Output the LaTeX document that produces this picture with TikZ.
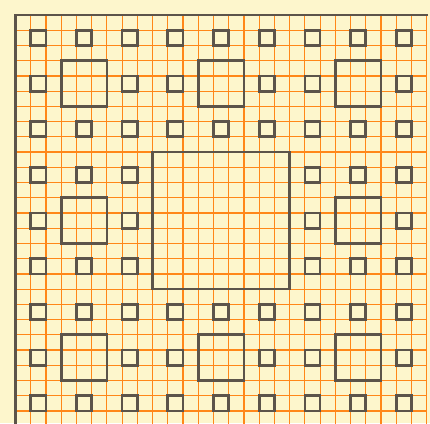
\documentclass[tikz,border=0pt]{standalone}
\definecolor{paper}{RGB}{253,246,204}
\definecolor{gridor}{RGB}{255,135,25}
\definecolor{ink}{RGB}{92,84,74}
\tikzset{
  gridline/.style={draw=gridor, line width=1.2pt},
  inkline/.style={draw=ink, line width=2.6pt, line join=miter},
  sq/.style={draw=ink, line width=2.7pt}
}
\begin{document}
\begin{tikzpicture}[x=1pt,y=-1pt]
\pgfmathsetmacro{\s}{15.23}
\pgfmathsetmacro{\xo}{15.5}
\pgfmathsetmacro{\yo}{15}
\fill[paper] (0,0) rectangle (430,423);
\useasboundingbox (0,0) rectangle (430,423);
% grid
\foreach \i in {1,...,27}{
  \draw[gridline] ({\xo+\i*\s},{\yo}) -- ({\xo+\i*\s},424);
}
\foreach \j in {1,...,27}{
  \draw[gridline] ({\xo},{\yo+\j*\s}) -- ({\xo+27*\s},{\yo+\j*\s});
}
% frame (left and top)
\draw[inkline] ({\xo},424) -- ({\xo},{\yo}) -- (428,{\yo});
% level 0 square
\draw[sq] ({\xo+9*\s},{\yo+9*\s}) rectangle ({\xo+18*\s},{\yo+18*\s});
% level 1 squares
\foreach \bx in {0,1,2}{
  \foreach \by in {0,1,2}{
    \ifnum\bx=1 \ifnum\by=1 \else
      \draw[sq] ({\xo+(9*\bx+3)*\s},{\yo+(9*\by+3)*\s}) rectangle ({\xo+(9*\bx+6)*\s},{\yo+(9*\by+6)*\s});
    \fi \else
      \draw[sq] ({\xo+(9*\bx+3)*\s},{\yo+(9*\by+3)*\s}) rectangle ({\xo+(9*\bx+6)*\s},{\yo+(9*\by+6)*\s});
    \fi
  }
}
% level 2 squares
\foreach \i in {0,...,8}{
  \foreach \j in {0,...,8}{
    \pgfmathtruncatemacro{\skipA}{(mod(\i,3)==1 && mod(\j,3)==1) ? 1 : 0}
    \pgfmathtruncatemacro{\skipB}{(int(\i/3)==1 && int(\j/3)==1) ? 1 : 0}
    \pgfmathtruncatemacro{\skipAll}{\skipA+\skipB}
    \ifnum\skipAll=0
      \draw[sq] ({\xo+(3*\i+1)*\s},{\yo+(3*\j+1)*\s}) rectangle ({\xo+(3*\i+2)*\s},{\yo+(3*\j+2)*\s});
    \fi
  }
}
\end{tikzpicture}
\end{document}
